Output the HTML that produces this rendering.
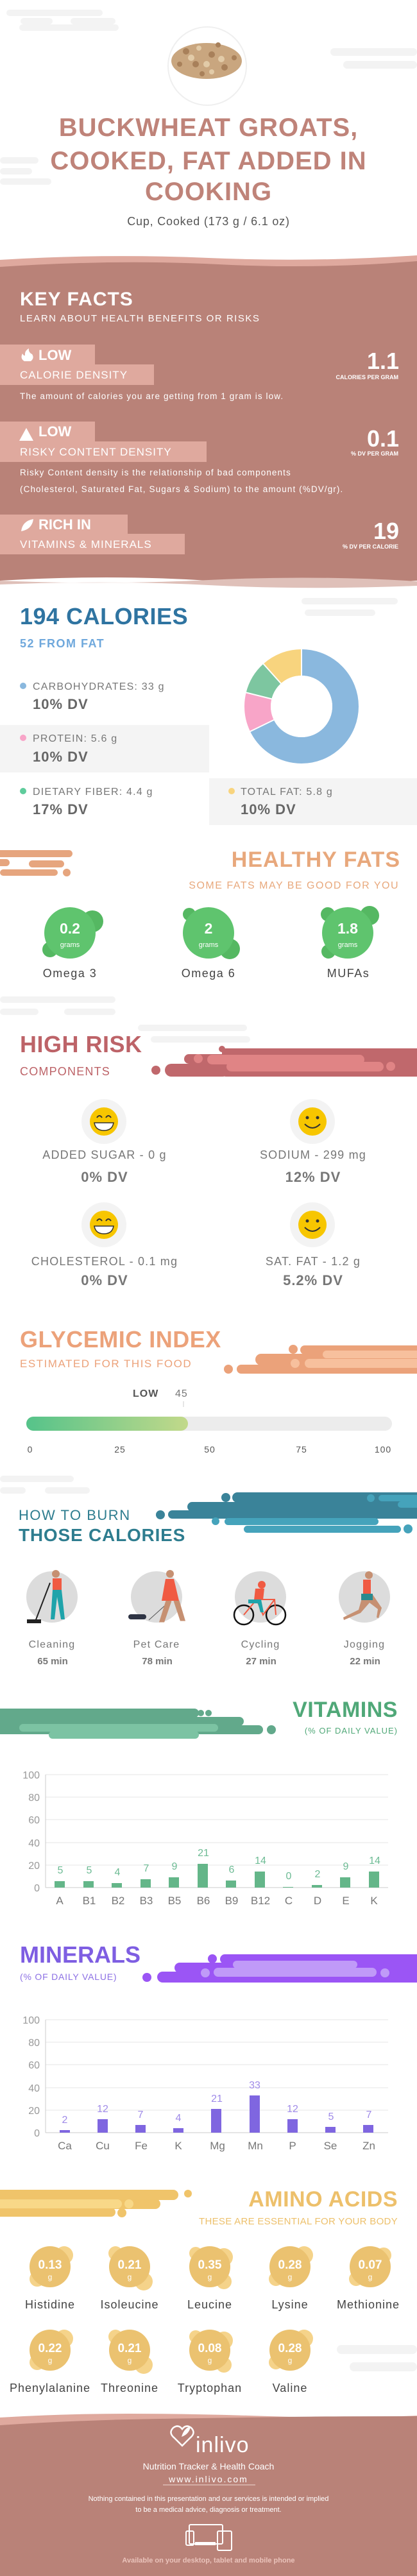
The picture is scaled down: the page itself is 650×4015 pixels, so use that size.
<!DOCTYPE html>
<html><head><meta charset="utf-8"><style>
html,body{margin:0;padding:0;background:#fff;}
svg{display:block;}
text{font-family:"Liberation Sans",sans-serif;}
.b{font-weight:bold;}
</style></head><body>
<svg width="650" height="4015" viewBox="0 0 650 4015" xmlns="http://www.w3.org/2000/svg">
<!-- header clouds -->
<g fill="#f3f3f3">
<rect x="10" y="15" width="150" height="10" rx="5"/><rect x="32" y="28" width="50" height="10" rx="5"/><rect x="110" y="28" width="70" height="10" rx="5"/><rect x="30" y="38" width="155" height="10" rx="5"/>
<rect x="515" y="75" width="135" height="12" rx="6"/><rect x="535" y="95" width="115" height="12" rx="6"/>
<rect x="0" y="245" width="60" height="10" rx="5"/><rect x="0" y="262" width="50" height="10" rx="5"/><rect x="0" y="278" width="80" height="10" rx="5"/>
<rect x="0" y="2300" width="115" height="10" rx="5"/><rect x="0" y="2318" width="40" height="10" rx="5"/><rect x="70" y="2318" width="70" height="10" rx="5"/>
<rect x="0" y="1553" width="180" height="10" rx="5"/><rect x="0" y="1572" width="60" height="10" rx="5"/><rect x="100" y="1572" width="80" height="10" rx="5"/>
<rect x="215" y="1597" width="170" height="10" rx="5"/><rect x="235" y="1615" width="155" height="10" rx="5"/>
<rect x="470" y="932" width="150" height="10" rx="5"/><rect x="475" y="950" width="110" height="10" rx="5"/>
<rect x="525" y="3655" width="125" height="14" rx="7"/><rect x="545" y="3682" width="105" height="14" rx="7"/>
</g>
<!-- food image -->
<circle cx="323" cy="103" r="61" fill="#fff" stroke="#efefef" stroke-width="2"/>
<ellipse cx="322" cy="95" rx="55" ry="28" fill="#c9a67f"/>
<g fill="#a8805a"><circle cx="290" cy="80" r="5"/><circle cx="305" cy="100" r="5"/><circle cx="330" cy="85" r="5"/><circle cx="350" cy="105" r="5"/><circle cx="315" cy="115" r="4"/><circle cx="340" cy="70" r="4"/><circle cx="365" cy="90" r="4"/><circle cx="280" cy="100" r="4"/></g>
<g fill="#e2cba8"><circle cx="298" cy="90" r="5"/><circle cx="322" cy="100" r="5"/><circle cx="345" cy="92" r="5"/><circle cx="330" cy="112" r="4"/><circle cx="310" cy="75" r="4"/></g>
<!-- title -->
<g fill="#bf8379" class="b" text-anchor="middle" font-size="40" letter-spacing="1">
<text x="325" y="212">BUCKWHEAT GROATS,</text>
<text x="325" y="264">COOKED, FAT ADDED IN</text>
<text x="325" y="312">COOKING</text>
</g>
<text x="325" y="351" text-anchor="middle" font-size="18" fill="#555" letter-spacing="0.8">Cup, Cooked (173 g / 6.1 oz)</text>

<!-- key facts section -->
<path d="M0 405 Q160 395 325 402 T650 398 L650 420 L0 420Z" fill="#dfa99e"/>
<path d="M0 416 Q180 404 340 412 T650 407 L650 905 Q480 915 325 905 T0 905Z" fill="#b98278"/>
<path d="M0 905 Q160 912 325 904 T650 906 L650 913 Q480 920 325 912 T0 911Z" fill="#dfc0b9"/>
<text x="31" y="476" class="b" font-size="30" fill="#fff" letter-spacing="1">KEY FACTS</text>
<text x="31" y="501" font-size="15" fill="#fff" letter-spacing="1.5">LEARN ABOUT HEALTH BENEFITS OR RISKS</text>

<g fill="#dfa99e">
<rect x="0" y="537" width="148" height="32"/><rect x="0" y="568" width="240" height="32"/>
<rect x="0" y="657" width="148" height="32"/><rect x="0" y="688" width="322" height="32"/>
<rect x="0" y="802" width="199" height="31"/><rect x="0" y="832" width="288" height="32"/>
</g>
<g fill="#fff">
<path d="M38 563 q-7 -4 -3 -12 q2 4 4 3 q-1 -7 6 -11 q-1 6 5 9 q4 6 -2 11z"/>
<path d="M30 687 L41 667 L52 687Z"/>
<path d="M33 828 q2 -16 19 -19 q-2 16 -19 19z"/>
</g>
<g fill="#fff" class="b" font-size="22">
<text x="60" y="561">LOW</text><text x="60" y="680">LOW</text><text x="60" y="825">RICH  IN</text>
</g>
<g fill="#fff" font-size="17" letter-spacing="1">
<text x="31" y="590">CALORIE DENSITY</text><text x="31" y="710">RISKY CONTENT DENSITY</text><text x="31" y="854">VITAMINS &amp; MINERALS</text>
</g>
<g fill="#fff" class="b" text-anchor="end">
<text x="622" y="575" font-size="36">1.1</text><text x="621" y="591" font-size="9">CALORIES PER GRAM</text>
<text x="622" y="696" font-size="36">0.1</text><text x="621" y="710" font-size="9">% DV PER GRAM</text>
<text x="622" y="840" font-size="36">19</text><text x="621" y="855" font-size="9">% DV PER CALORIE</text>
</g>
<g fill="#fff" font-size="13.5" letter-spacing="1.1">
<text x="31" y="622">The amount of calories you are getting from 1 gram is low.</text>
<text x="31" y="741">Risky Content density is the relationship of bad components</text>
<text x="31" y="767">(Cholesterol, Saturated Fat, Sugars &amp; Sodium) to the amount (%DV/gr).</text>
</g>

<!-- calories -->
<text x="31" y="973" class="b" font-size="36" fill="#2f74a1" letter-spacing="0.5">194 CALORIES</text>
<text x="31" y="1009" class="b" font-size="18" fill="#6fa8dc" letter-spacing="1.5">52 FROM FAT</text>
<rect x="0" y="1130" width="326" height="74" fill="#f4f4f4"/>
<rect x="326" y="1213" width="324" height="73" fill="#f4f4f4"/>
<g font-size="16" fill="#777" letter-spacing="1.2">
<text x="51" y="1075">CARBOHYDRATES: 33 g</text>
<text x="51" y="1156">PROTEIN: 5.6 g</text>
<text x="51" y="1239">DIETARY FIBER: 4.4 g</text>
<text x="375" y="1239">TOTAL FAT: 5.8 g</text>
</g>
<g font-size="22" fill="#666" class="b" letter-spacing="1">
<text x="51" y="1105">10% DV</text><text x="51" y="1187">10% DV</text><text x="51" y="1269">17% DV</text><text x="375" y="1269">10% DV</text>
</g>
<circle cx="36" cy="1069" r="5" fill="#8ab8de"/><circle cx="36" cy="1150" r="5" fill="#f8a5c8"/><circle cx="36" cy="1233" r="5" fill="#5fcc9c"/><circle cx="361" cy="1233" r="5" fill="#f8d47e"/>
<g transform="translate(470 1101) rotate(-90)" fill="none" stroke-width="41">
<circle r="68.5" stroke="#8ab8de" stroke-dasharray="291.7 500" stroke-dashoffset="0"/>
<circle r="68.5" stroke="#f8a5c8" stroke-dasharray="47.8 500" stroke-dashoffset="-291.7"/>
<circle r="68.5" stroke="#7dc6a0" stroke-dasharray="40.6 500" stroke-dashoffset="-339.5"/>
<circle r="68.5" stroke="#f8d47e" stroke-dasharray="50.2 500" stroke-dashoffset="-380.1"/>
</g>
<g stroke="#fff" stroke-width="2"><line x1="470" y1="1101" x2="470" y2="1010"/><line x1="470" y1="1101" x2="388" y2="1141"/><line x1="470" y1="1101" x2="382" y2="1079"/><line x1="470" y1="1101" x2="409" y2="1033"/></g>
<circle cx="470" cy="1101" r="48" fill="#fff"/>

<!-- healthy fats -->
<g fill="#e6a57e"><rect x="-10" y="1325" width="123" height="11" rx="5.5"/><rect x="-10" y="1339" width="25" height="11" rx="5.5"/><rect x="45" y="1341" width="55" height="11" rx="5.5"/><circle cx="104" cy="1360" r="6"/><rect x="0" y="1355" width="90" height="10" rx="5"/></g>
<text x="624" y="1351" text-anchor="end" class="b" font-size="34" fill="#e8a87c" letter-spacing="1">HEALTHY FATS</text>
<text x="622" y="1385" text-anchor="end" font-size="16" fill="#e8a87c" letter-spacing="1.5">SOME FATS MAY BE GOOD FOR YOU</text>
<g fill="#55b862">
<circle cx="144" cy="1436" r="17"/><circle cx="78" cy="1480" r="12"/>
<circle cx="295" cy="1425" r="10"/><circle cx="358" cy="1479" r="16"/>
<circle cx="511" cy="1425" r="11"/><circle cx="576" cy="1427" r="15"/><circle cx="512" cy="1483" r="11"/>
</g>
<g fill="#5fc46e"><circle cx="109" cy="1454" r="40"/><circle cx="325" cy="1454" r="40"/><circle cx="542" cy="1454" r="40"/></g>
<g fill="#fff" text-anchor="middle">
<text x="109" y="1455" class="b" font-size="23">0.2</text><text x="325" y="1455" class="b" font-size="23">2</text><text x="542" y="1455" class="b" font-size="23">1.8</text>
<text x="109" y="1476" font-size="11">grams</text><text x="325" y="1476" font-size="11">grams</text><text x="542" y="1476" font-size="11">grams</text>
</g>
<g fill="#444" text-anchor="middle" font-size="18" letter-spacing="1.5">
<text x="109" y="1523">Omega 3</text><text x="325" y="1523">Omega 6</text><text x="543" y="1523">MUFAs</text>
</g>

<!-- high risk -->
<g fill="#c0686c">
<rect x="346" y="1634" width="314" height="44" rx="6"/><rect x="257" y="1658" width="100" height="20" rx="10"/><circle cx="243" cy="1668" r="7"/>
<rect x="287" y="1643" width="80" height="15" rx="7.5"/><circle cx="346" cy="1635" r="5"/>
</g>
<g fill="#e08485"><rect x="323" y="1644" width="245" height="15" rx="7.5"/><rect x="353" y="1655" width="245" height="15" rx="7.5"/><circle cx="309" cy="1650" r="7"/><circle cx="609" cy="1662" r="7"/></g>
<text x="31" y="1640" class="b" font-size="36" fill="#bd6368" letter-spacing="0.5">HIGH RISK</text>
<text x="31" y="1676" font-size="18" fill="#bd6368" letter-spacing="1.2">COMPONENTS</text>

<g id="sm">
<circle cx="162" cy="1748" r="35" fill="#f3f3f3"/><circle cx="487" cy="1748" r="35" fill="#f3f3f3"/>
<circle cx="162" cy="1909" r="35" fill="#f3f3f3"/><circle cx="487" cy="1909" r="35" fill="#f3f3f3"/>
</g>
<g fill="#f7c600">
<circle cx="162" cy="1748" r="22"/><circle cx="487" cy="1748" r="22"/><circle cx="162" cy="1909" r="22"/><circle cx="487" cy="1909" r="22"/>
</g>
<g fill="#fff" stroke="#333" stroke-width="1.5">
<path d="M147 1750 h30 q-2 12 -15 12 q-13 0 -15 -12z"/><path d="M147 1911 h30 q-2 12 -15 12 q-13 0 -15 -12z"/>
</g>
<g fill="none" stroke="#333" stroke-width="2">
<path d="M151 1742 q4 -6 8 0 M165 1742 q4 -6 8 0"/><path d="M151 1903 q4 -6 8 0 M165 1903 q4 -6 8 0"/>
<path d="M475 1752 q12 12 24 0"/><path d="M475 1913 q12 12 24 0"/>
</g>
<g fill="#333"><circle cx="479" cy="1742" r="2.5"/><circle cx="495" cy="1742" r="2.5"/><circle cx="479" cy="1903" r="2.5"/><circle cx="495" cy="1903" r="2.5"/></g>
<g fill="#777" font-size="18" text-anchor="middle" letter-spacing="1.2">
<text x="163" y="1806">ADDED SUGAR - 0 g</text><text x="488" y="1806">SODIUM - 299 mg</text>
<text x="163" y="1972">CHOLESTEROL - 0.1 mg</text><text x="488" y="1972">SAT. FAT - 1.2 g</text>
</g>
<g fill="#777" font-size="22" class="b" text-anchor="middle" letter-spacing="1">
<text x="163" y="1842">0% DV</text><text x="488" y="1842">12% DV</text><text x="163" y="2003">0% DV</text><text x="488" y="2003">5.2% DV</text>
</g>

<!-- glycemic -->
<g fill="#eba27a"><rect x="468" y="2097" width="190" height="14" rx="7"/><circle cx="457" cy="2103" r="7"/><circle cx="474" cy="2103" r="5"/><rect x="398" y="2110" width="260" height="18" rx="9"/><rect x="369" y="2127" width="290" height="14" rx="7"/><circle cx="356" cy="2134" r="7"/></g>
<g fill="#f7c09d"><rect x="503" y="2105" width="160" height="12" rx="6"/><rect x="475" y="2118" width="185" height="14" rx="7"/><circle cx="460" cy="2125" r="7"/></g>
<text x="31" y="2100" class="b" font-size="36" fill="#eca27a" letter-spacing="0.5">GLYCEMIC INDEX</text>
<text x="31" y="2131" font-size="17" fill="#eca27a" letter-spacing="1.5">ESTIMATED FOR THIS FOOD</text>
<text x="207" y="2177" class="b" font-size="16" fill="#555" letter-spacing="1">LOW</text>
<text x="273" y="2177" font-size="16" fill="#777" letter-spacing="1">45</text>
<line x1="286" y1="2184" x2="286" y2="2193" stroke="#ccc"/>
<defs><linearGradient id="g1" x1="0" x2="1"><stop offset="0" stop-color="#55c38a"/><stop offset="1" stop-color="#c2d98a"/></linearGradient></defs>
<rect x="41" y="2208" width="570" height="22" rx="11" fill="#ececec"/>
<rect x="41" y="2208" width="252" height="22" rx="11" fill="url(#g1)"/>
<g font-size="14" fill="#555" text-anchor="middle" letter-spacing="1">
<text x="47" y="2264">0</text><text x="187" y="2264">25</text><text x="327" y="2264">50</text><text x="470" y="2264">75</text><text x="597" y="2264">100</text>
</g>

<!-- burn -->
<g fill="#3a8399"><rect x="362" y="2326" width="300" height="16" rx="8"/><circle cx="352" cy="2334" r="7"/><rect x="292" y="2341" width="370" height="15" rx="7.5"/><rect x="262" y="2354" width="400" height="13" rx="6.5"/><circle cx="250" cy="2361" r="7"/></g>
<g fill="#45a3bb"><rect x="590" y="2330" width="70" height="10" rx="5"/><circle cx="578" cy="2335" r="6"/><rect x="620" y="2340" width="40" height="10" rx="5"/><rect x="350" y="2366" width="240" height="11" rx="5.5"/><circle cx="336" cy="2371" r="6"/><rect x="380" y="2378" width="245" height="11" rx="5.5"/><circle cx="636" cy="2383" r="7"/></g>
<text x="29" y="2369" font-size="22" fill="#2e7d8f" letter-spacing="1.5">HOW TO BURN</text>
<text x="29" y="2402" class="b" font-size="28" fill="#2e7d8f" letter-spacing="0.8">THOSE CALORIES</text>
<g fill="#dcdcdc"><circle cx="81" cy="2489" r="40"/><circle cx="244" cy="2489" r="40"/><circle cx="406" cy="2489" r="40"/><circle cx="568" cy="2489" r="40"/></g>
<!-- figures -->
<g>
<line x1="78" y1="2467" x2="55" y2="2527" stroke="#222" stroke-width="2"/><rect x="42" y="2524" width="22" height="6" fill="#222"/>
<circle cx="87" cy="2453" r="6" fill="#c69072"/><rect x="82" y="2460" width="14" height="20" fill="#f05a42"/><path d="M82 2478 h14 l5 46 h-6 l-6 -35 l-4 35 h-6z" fill="#1fa3aa"/>
<line x1="232" y1="2525" x2="262" y2="2498" stroke="#555"/><rect x="200" y="2516" width="28" height="8" rx="4" fill="#2f3444"/>
<circle cx="265" cy="2453" r="6" fill="#c69072"/><path d="M258 2461 h13 l8 34 h-27z" fill="#f05a42"/><path d="M260 2495 l-10 32 h5 l11 -32 M272 2495 l10 30 h5 l-9 -30" fill="#c69072" stroke="#c69072" stroke-width="3"/>
<circle cx="380" cy="2517" r="15" fill="none" stroke="#111" stroke-width="2.5"/><circle cx="430" cy="2517" r="15" fill="none" stroke="#111" stroke-width="2.5"/>
<path d="M380 2517 L400 2493 L428 2493 L430 2517 M400 2493 L410 2517 L428 2493" fill="none" stroke="#f05a42" stroke-width="2"/>
<circle cx="408" cy="2470" r="6" fill="#f05a42"/><path d="M398 2476 h14 l-2 18 h-14z" fill="#f05a42"/><path d="M387 2493 h20 l4 20 h-5 l-4 -14 h-15z" fill="#1fa3aa"/>
<circle cx="575" cy="2455" r="6" fill="#c69072"/><rect x="566" y="2462" width="12" height="22" fill="#f05a42"/><path d="M566 2484 h14 l15 22 l-5 16 l-3 -1 l2 -13 l-13 -10 l-14 16 l-26 11 l-1 -4 l24 -12z" fill="#c69072"/><rect x="563" y="2484" width="18" height="10" fill="#2a8a8f"/>
</g>
<g fill="#777" font-size="16" text-anchor="middle" letter-spacing="1.2">
<text x="81" y="2568">Cleaning</text><text x="244" y="2568">Pet Care</text><text x="406" y="2568">Cycling</text><text x="568" y="2568">Jogging</text>
</g>
<g fill="#777" font-size="15" class="b" text-anchor="middle">
<text x="82" y="2594">65 min</text><text x="245" y="2594">78 min</text><text x="407" y="2594">27 min</text><text x="569" y="2594">22 min</text>
</g>

<!-- vitamins -->
<g fill="#62a98b"><rect x="-10" y="2663" width="320" height="14" rx="7"/><circle cx="313" cy="2670" r="5"/><circle cx="325" cy="2670" r="5"/><rect x="-10" y="2676" width="390" height="14" rx="7"/><rect x="-10" y="2689" width="420" height="14" rx="7"/><circle cx="423" cy="2696" r="7"/></g>
<g fill="#7cc3a3"><rect x="30" y="2687" width="310" height="12" rx="6"/><rect x="76" y="2698" width="234" height="12" rx="6"/></g>
<text x="620" y="2676" text-anchor="end" class="b" font-size="34" fill="#50a878" letter-spacing="0.5">VITAMINS</text>
<text x="620" y="2702" text-anchor="end" font-size="13" fill="#50a878" letter-spacing="1">(% OF DAILY VALUE)</text>
<g stroke="#e6e6e6" stroke-width="1">
<line x1="71" y1="2766" x2="605" y2="2766"/><line x1="71" y1="2801" x2="605" y2="2801"/><line x1="71" y1="2836" x2="605" y2="2836"/><line x1="71" y1="2872" x2="605" y2="2872"/><line x1="71" y1="2907" x2="605" y2="2907"/>
</g>
<line x1="71" y1="2942" x2="605" y2="2942" stroke="#ccc"/><line x1="71" y1="2766" x2="71" y2="2942" stroke="#ccc"/>
<g fill="#999" font-size="16" text-anchor="end">
<text x="62" y="2772">100</text><text x="62" y="2807">80</text><text x="62" y="2842">60</text><text x="62" y="2878">40</text><text x="62" y="2913">20</text><text x="62" y="2948">0</text>
</g>
<g fill="#64b689">
<rect x="85" y="2932" width="16" height="10"/><rect x="130" y="2932" width="16" height="10"/><rect x="174" y="2935" width="16" height="7"/><rect x="219" y="2929" width="16" height="13"/><rect x="263" y="2926" width="16" height="16"/><rect x="308" y="2905" width="16" height="37"/><rect x="352" y="2931" width="16" height="11"/><rect x="397" y="2917" width="16" height="25"/><rect x="441" y="2941" width="16" height="1"/><rect x="486" y="2938" width="16" height="4"/><rect x="530" y="2926" width="16" height="16"/><rect x="575" y="2917" width="16" height="25"/>
</g>
<g fill="#6dbb94" font-size="16" text-anchor="middle">
<text x="94" y="2920">5</text><text x="139" y="2920">5</text><text x="183" y="2923">4</text><text x="228" y="2917">7</text><text x="272" y="2914">9</text><text x="317" y="2893">21</text><text x="361" y="2919">6</text><text x="406" y="2905">14</text><text x="450" y="2929">0</text><text x="495" y="2926">2</text><text x="539" y="2914">9</text><text x="584" y="2905">14</text>
</g>
<g fill="#777" font-size="17" text-anchor="middle">
<text x="93" y="2968">A</text><text x="139" y="2968">B1</text><text x="184" y="2968">B2</text><text x="228" y="2968">B3</text><text x="272" y="2968">B5</text><text x="317" y="2968">B6</text><text x="361" y="2968">B9</text><text x="406" y="2968">B12</text><text x="450" y="2968">C</text><text x="495" y="2968">D</text><text x="539" y="2968">E</text><text x="583" y="2968">K</text>
</g>

<!-- minerals -->
<g fill="#9b55f5"><rect x="343" y="3046" width="317" height="15" rx="7.5"/><circle cx="331" cy="3053" r="7"/><rect x="272" y="3059" width="388" height="16" rx="8"/><rect x="245" y="3073" width="415" height="17" rx="8.5"/><circle cx="229" cy="3082" r="7"/></g>
<g fill="#c09af8"><rect x="363" y="3056" width="194" height="12" rx="6"/><rect x="333" y="3067" width="254" height="14" rx="7"/><circle cx="320" cy="3075" r="7"/><circle cx="600" cy="3075" r="7"/></g>
<text x="31" y="3059" class="b" font-size="36" fill="#7e5ee2">MINERALS</text>
<text x="31" y="3086" font-size="14" fill="#8c70e4" letter-spacing="0.8">(% OF DAILY VALUE)</text>
<g stroke="#e6e6e6" stroke-width="1">
<line x1="71" y1="3148" x2="605" y2="3148"/><line x1="71" y1="3183" x2="605" y2="3183"/><line x1="71" y1="3218" x2="605" y2="3218"/><line x1="71" y1="3254" x2="605" y2="3254"/><line x1="71" y1="3289" x2="605" y2="3289"/>
</g>
<line x1="71" y1="3324" x2="605" y2="3324" stroke="#ccc"/><line x1="71" y1="3148" x2="71" y2="3324" stroke="#ccc"/>
<g fill="#999" font-size="16" text-anchor="end">
<text x="62" y="3154">100</text><text x="62" y="3189">80</text><text x="62" y="3224">60</text><text x="62" y="3260">40</text><text x="62" y="3295">20</text><text x="62" y="3330">0</text>
</g>
<g fill="#7f66e0">
<rect x="93" y="3320" width="16" height="4"/><rect x="152" y="3303" width="16" height="21"/><rect x="211" y="3312" width="16" height="12"/><rect x="270" y="3317" width="16" height="7"/><rect x="329" y="3287" width="16" height="37"/><rect x="389" y="3266" width="16" height="58"/><rect x="448" y="3303" width="16" height="21"/><rect x="507" y="3315" width="16" height="9"/><rect x="566" y="3312" width="16" height="12"/>
</g>
<g fill="#9f8ae8" font-size="16" text-anchor="middle">
<text x="101" y="3309">2</text><text x="160" y="3292">12</text><text x="219" y="3301">7</text><text x="278" y="3306">4</text><text x="338" y="3276">21</text><text x="397" y="3255">33</text><text x="456" y="3292">12</text><text x="516" y="3304">5</text><text x="575" y="3301">7</text>
</g>
<g fill="#777" font-size="17" text-anchor="middle">
<text x="101" y="3350">Ca</text><text x="160" y="3350">Cu</text><text x="220" y="3350">Fe</text><text x="278" y="3350">K</text><text x="339" y="3350">Mg</text><text x="398" y="3350">Mn</text><text x="456" y="3350">P</text><text x="515" y="3350">Se</text><text x="575" y="3350">Zn</text>
</g>

<!-- amino -->
<g fill="#f0c46a"><rect x="-10" y="3413" width="288" height="16" rx="8"/><circle cx="293" cy="3419" r="6"/><rect x="-10" y="3427" width="260" height="16" rx="8"/><rect x="-10" y="3441" width="190" height="14" rx="7"/><circle cx="190" cy="3449" r="7"/></g>
<g fill="#f8d888"><rect x="-10" y="3428" width="200" height="14" rx="7"/><circle cx="201" cy="3435" r="7"/></g>
<text x="620" y="3439" text-anchor="end" class="b" font-size="34" fill="#edc06b" letter-spacing="0.5">AMINO ACIDS</text>
<text x="620" y="3467" text-anchor="end" font-size="15" fill="#edc06b" letter-spacing="0.3">THESE ARE ESSENTIAL FOR YOUR BODY</text>
<g fill="#f5d38a">
<circle cx="100" cy="3515" r="14"/><circle cx="58" cy="3552" r="12"/>
<circle cx="224" cy="3556" r="14"/><circle cx="180" cy="3512" r="11"/>
<circle cx="349" cy="3518" r="14"/><circle cx="349" cy="3556" r="12"/><circle cx="305" cy="3512" r="10"/>
<circle cx="474" cy="3515" r="14"/><circle cx="430" cy="3552" r="11"/>
<circle cx="598" cy="3515" r="12"/><circle cx="555" cy="3552" r="11"/>
<circle cx="100" cy="3645" r="14"/><circle cx="58" cy="3682" r="12"/>
<circle cx="224" cy="3686" r="14"/><circle cx="180" cy="3642" r="11"/>
<circle cx="349" cy="3648" r="14"/><circle cx="349" cy="3686" r="12"/><circle cx="305" cy="3642" r="10"/>
<circle cx="474" cy="3645" r="14"/><circle cx="430" cy="3682" r="11"/>
</g>
<g fill="#ebc270">
<circle cx="78" cy="3533" r="32"/><circle cx="202" cy="3533" r="32"/><circle cx="327" cy="3533" r="32"/><circle cx="452" cy="3533" r="32"/><circle cx="577" cy="3533" r="32"/>
<circle cx="78" cy="3663" r="32"/><circle cx="202" cy="3663" r="32"/><circle cx="327" cy="3663" r="32"/><circle cx="452" cy="3663" r="32"/>
</g>
<g fill="#fff" class="b" font-size="19" text-anchor="middle">
<text x="78" y="3536">0.13</text><text x="202" y="3536">0.21</text><text x="327" y="3536">0.35</text><text x="452" y="3536">0.28</text><text x="577" y="3536">0.07</text>
<text x="78" y="3666">0.22</text><text x="202" y="3666">0.21</text><text x="327" y="3666">0.08</text><text x="452" y="3666">0.28</text>
</g>
<g fill="#fff" font-size="12" text-anchor="middle">
<text x="78" y="3553">g</text><text x="202" y="3553">g</text><text x="327" y="3553">g</text><text x="452" y="3553">g</text><text x="577" y="3553">g</text>
<text x="78" y="3683">g</text><text x="202" y="3683">g</text><text x="327" y="3683">g</text><text x="452" y="3683">g</text>
</g>
<g fill="#444" font-size="18" text-anchor="middle" letter-spacing="1">
<text x="78" y="3598">Histidine</text><text x="202" y="3598">Isoleucine</text><text x="327" y="3598">Leucine</text><text x="452" y="3598">Lysine</text><text x="574" y="3598">Methionine</text>
<text x="78" y="3728">Phenylalanine</text><text x="202" y="3728">Threonine</text><text x="327" y="3728">Tryptophan</text><text x="452" y="3728">Valine</text>
</g>

<!-- footer -->
<path d="M0 3768 Q100 3762 200 3762 T420 3766 T650 3765 L650 3790 L0 3790Z" fill="#dfa99e"/>
<path d="M0 3780 Q120 3772 250 3770 T450 3767 T650 3766 L650 4015 L0 4015Z" fill="#b98278"/>
<path d="M272 3800 q-10 -8 -2 -16 q8 -6 14 2 q6 -8 14 -2 q8 8 -2 16 l-12 12z" fill="none" stroke="#fff" stroke-width="2.5"/>
<path d="M283 3798 q4 -14 14 -16 q-2 12 -14 16z" fill="#fff"/>
<text x="305" y="3822" font-size="34" fill="#fff" letter-spacing="1">inlivo</text>
<text x="325" y="3849" text-anchor="middle" font-size="14" fill="#fff">Nutrition Tracker &amp; Health Coach</text>
<text x="325" y="3869" text-anchor="middle" font-size="14" fill="#fff" letter-spacing="2">www.inlivo.com</text>
<line x1="254" y1="3873" x2="398" y2="3873" stroke="#f0d8d2" stroke-width="1"/>
<text x="325" y="3898" text-anchor="middle" font-size="11" fill="#fff">Nothing contained in this presentation and our services is intended or implied</text>
<text x="325" y="3915" text-anchor="middle" font-size="11" fill="#fff">to be a medical advice, diagnosis or treatment.</text>
<g fill="none" stroke="#fff" stroke-width="2">
<rect x="295" y="3935" width="52" height="30" rx="2"/><rect x="290" y="3945" width="12" height="22" rx="2"/><rect x="339" y="3945" width="22" height="30" rx="2"/>
</g>
<rect x="304" y="3962" width="32" height="5" fill="#fff"/>
<text x="325" y="3994" text-anchor="middle" class="b" font-size="11" fill="#eac3bb">Available on your desktop, tablet and mobile phone</text>
</svg>
</body></html>
